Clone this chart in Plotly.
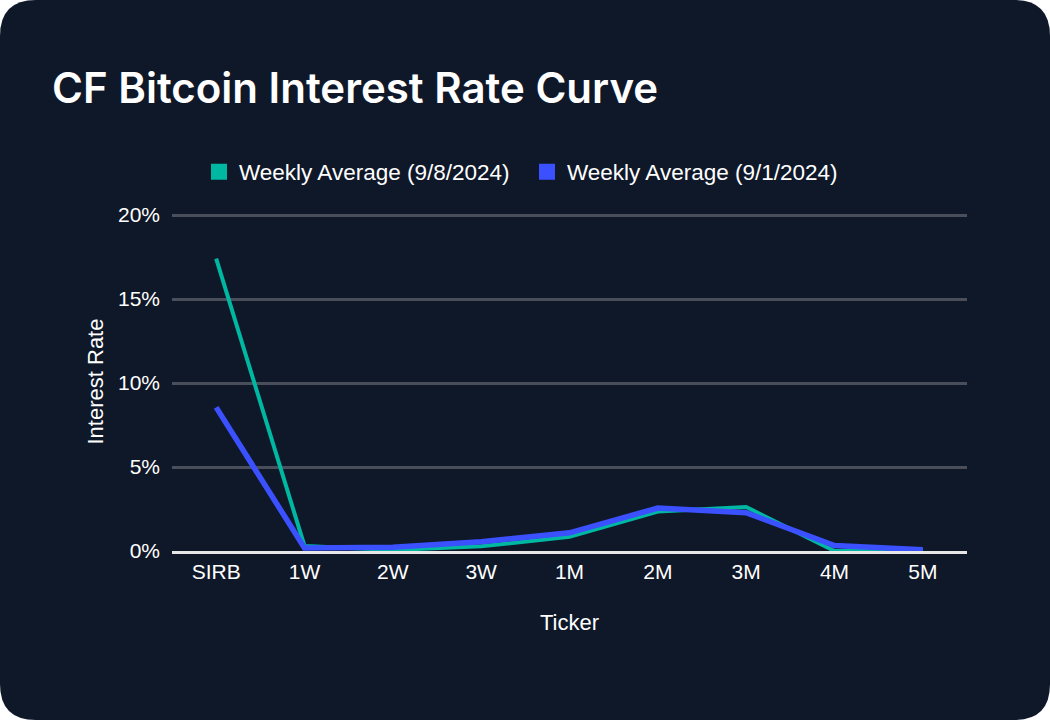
#import libraries
import plotly.graph_objs as go

# chart data (interest rate, %)
tickers = ['SIRB', '1W', '2W', '3W', '1M', '2M', '3M', '4M', '5M']
rate_sep08 = [17.4, 0.3, 0.06, 0.28, 0.85, 2.35, 2.62, 0.0, 0.05]
rate_sep01 = [8.55, 0.18, 0.22, 0.55, 1.08, 2.56, 2.28, 0.32, 0.08]
y_ticks = [0, 5, 10, 15, 20]
y_tick_labels = ['0%', '5%', '10%', '15%', '20%']
series_names = ['Weekly Average (9/8/2024)', 'Weekly Average (9/1/2024)']
series_colors = ['#00B8A2', '#3B50FF']

W, H = 1050, 720
ML, MR, MT, MB = 172, 83, 212, 169
BG = '#0F1829'
AXIS_FONT = 'Liberation Sans, Arial, sans-serif'


def px_to_paper(px, py):
    # convert pixel position to paper coordinates
    return (px - ML) / (W - ML - MR), (H - MB - py) / (H - MT - MB)


def card_path(r=36):
    pts = {
        'tl0': px_to_paper(0, r), 'tl': px_to_paper(0, 0), 'tl1': px_to_paper(r, 0),
        'tr0': px_to_paper(W - r, 0), 'tr': px_to_paper(W, 0), 'tr1': px_to_paper(W, r),
        'br0': px_to_paper(W, H - r), 'br': px_to_paper(W, H), 'br1': px_to_paper(W - r, H),
        'bl0': px_to_paper(r, H), 'bl': px_to_paper(0, H), 'bl1': px_to_paper(0, H - r),
    }
    f = lambda k: '%f,%f' % pts[k]
    return ('M %s Q %s %s L %s Q %s %s L %s Q %s %s L %s Q %s %s Z'
            % (f('tl0'), f('tl'), f('tl1'), f('tr0'), f('tr'), f('tr1'),
               f('br0'), f('br'), f('br1'), f('bl0'), f('bl'), f('bl1')))


plot_data = []
for name, vals, col, w in zip(series_names, [rate_sep08, rate_sep01], series_colors, [4, 5.5]):
    plot_data.append(go.Scatter(x=tickers, y=vals, mode='lines', name=name,
                                line=dict(color=col, width=w), showlegend=False,
                                cliponaxis=False))
# square legend markers
for name, col in zip(series_names, series_colors):
    plot_data.append(go.Scatter(x=[None], y=[None], mode='markers', name=name,
                                marker=dict(symbol='square', size=16, color=col)))

fig = go.Figure(data=plot_data)

# keep the 20% grid line just inside the plot area
plot_h = H - MT - MB
y_top = 20 * plot_h / (plot_h - 3)

lx, ly = px_to_paper(199, 172)
fig.update_layout(
    width=W, height=H,
    margin=dict(l=ML, r=MR, t=MT, b=MB),
    paper_bgcolor='#FFFFFF',
    plot_bgcolor=BG,
    font=dict(family=AXIS_FONT, size=21, color='#FFFFFF'),
    title=dict(text='CF Bitcoin Interest Rate Curve', x=52 / W, xanchor='left',
               xref='container', y=1 - 88 / H, yref='container', yanchor='middle',
               font=dict(family='Inter, sans-serif', size=42, weight=600, color='#FFFFFF')),
    legend=dict(orientation='h', x=lx, y=ly, xanchor='left', yanchor='middle',
                font=dict(size=22.5, color='#FFFFFF'), bgcolor='rgba(0,0,0,0)',
                entrywidth=283, itemclick=False),
    showlegend=True,
    xaxis=dict(title=dict(text='Ticker', standoff=33, font=dict(size=22)),
               range=[-0.5, 8.5], showgrid=False,
               showline=True, linecolor='#E6E6E6', linewidth=3,
               ticks='', tickfont=dict(size=21)),
    yaxis=dict(title=dict(text='Interest Rate', standoff=8, font=dict(size=22)),
               range=[0, y_top], tickmode='array', tickvals=y_ticks, ticktext=y_tick_labels,
               gridcolor='#4A4E5A', gridwidth=3, zeroline=False,
               ticks='', ticklabelstandoff=11, tickfont=dict(size=21)),
    shapes=[dict(type='path', path=card_path(), xref='paper', yref='paper',
                 fillcolor=BG, line=dict(width=0), layer='below')],
)

fig.write_html('out.html', config={'displayModeBar': False},
               post_script="document.body.style.margin='0';")
